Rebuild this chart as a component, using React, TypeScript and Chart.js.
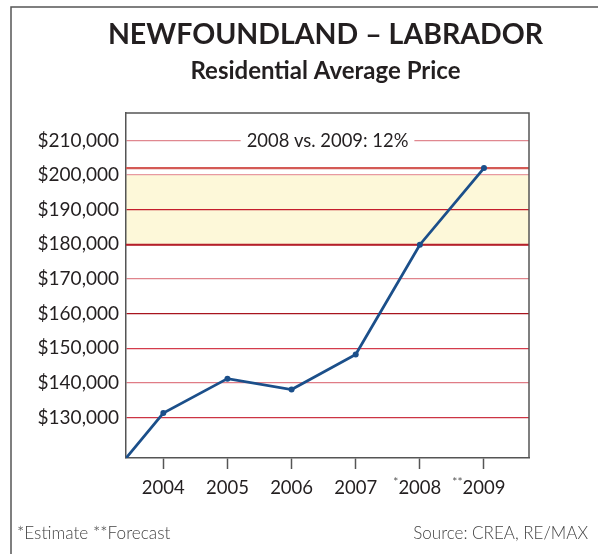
import React, { useEffect, useRef } from 'react';
import { Chart, registerables } from 'chart.js';

Chart.register(...registerables);

// ---- data ----
const years = [2003, 2004, 2005, 2006, 2007, 2008, 2009];
const prices = [109000, 131300, 141250, 138100, 148200, 179900, 202000];
const xTickYears = [2004, 2005, 2006, 2007, 2008, 2009];
const xTickLabels = ['2004', '2005', '2006', '2007', '*2008', '**2009'];
const yTickValues = [130000, 140000, 150000, 160000, 170000, 180000, 190000, 200000, 210000];
const bandRange = [180000, 200000];
const compareYears = [2008, 2009];
const titleText = 'NEWFOUNDLAND – LABRADOR';
const subtitleText = 'Residential Average Price';
const footnoteText = '*Estimate **Forecast';
const sourceText = 'Source: CREA, RE/MAX';

const FONT = 'Lato, "Open Sans", sans-serif';
const TEXT = '#231f20';
const LINE_BLUE = '#1b4f8a';

const gridColors: Record<number, string> = {
  130000: '#cc3444',
  140000: '#e07c86',
  150000: '#d43c4c',
  160000: '#a8141e',
  170000: '#e0848c',
  180000: '#b0101c',
  190000: '#c41e2c',
  200000: '#e89aa0',
  210000: '#e08890',
};

const decorPlugin = {
  id: 'decor',
  beforeDraw(chart: any) {
    const { ctx, chartArea } = chart;
    const y = chart.scales.y;
    const top = y.getPixelForValue(bandRange[1]);
    const bot = y.getPixelForValue(bandRange[0]);
    ctx.save();
    ctx.fillStyle = '#fdf8d9';
    ctx.fillRect(chartArea.left, top, chartArea.right - chartArea.left, bot - top);
    ctx.restore();
  },
  beforeDatasetsDraw(chart: any) {
    const { ctx, chartArea } = chart;
    const ys = chart.scales.y;
    ctx.save();
    const v1 = prices[years.indexOf(compareYears[0])];
    const v2 = prices[years.indexOf(compareYears[1])];
    const drawH = (v: number, color: string, w: number) => {
      const py = ys.getPixelForValue(v);
      ctx.beginPath();
      ctx.strokeStyle = color;
      ctx.lineWidth = w;
      ctx.moveTo(chartArea.left, py);
      ctx.lineTo(chartArea.right, py);
      ctx.stroke();
    };
    drawH(v1, '#b51f2a', 2);
    drawH(v2, '#d45a55', 2.2);

    const pct = Math.round((v2 / v1 - 1) * 100);
    const label = `${compareYears[0]} vs. ${compareYears[1]}: ${pct}%`;
    ctx.font = `18.4px ${FONT}`;
    const w = ctx.measureText(label).width;
    const cx = (chartArea.left + chartArea.right) / 2;
    const ay = ys.getPixelForValue(yTickValues[yTickValues.length - 1]);
    ctx.fillStyle = '#ffffff';
    ctx.fillRect(cx - w / 2 - 6, ay - 10, w + 12, 20);
    ctx.fillStyle = TEXT;
    ctx.textAlign = 'center';
    ctx.textBaseline = 'middle';
    ctx.fillText(label, cx, ay + 1);

    ctx.beginPath();
    ctx.strokeStyle = '#555';
    ctx.lineWidth = 1.5;
    ctx.moveTo(chartArea.left, chartArea.top);
    ctx.lineTo(chartArea.right, chartArea.top);
    ctx.lineTo(chartArea.right, chartArea.bottom);
    ctx.stroke();
    ctx.restore();
  },
  afterDraw(chart: any) {
    const { ctx, chartArea } = chart;
    ctx.save();
    ctx.beginPath();
    ctx.strokeStyle = '#555';
    ctx.lineWidth = 1.5;
    ctx.moveTo(11, 600);
    ctx.lineTo(11, 7);
    ctx.lineTo(620, 7);
    ctx.stroke();

    const cx = (chartArea.left + chartArea.right) / 2;
    ctx.fillStyle = TEXT;
    ctx.textAlign = 'center';
    ctx.textBaseline = 'alphabetic';
    ctx.font = `bold 28.5px ${FONT}`;
    ctx.fillText(titleText, cx - 2, 44);
    ctx.font = `bold 24px ${FONT}`;
    ctx.fillText(subtitleText, cx - 2, 79);

    const xs = chart.scales.x;
    xTickYears.forEach((yr, i) => {
      const m = xTickLabels[i].match(/^\*+/);
      if (!m) return;
      const digits = xTickLabels[i].replace(/\*/g, '');
      ctx.font = `18.5px ${FONT}`;
      const dw = ctx.measureText(digits).width;
      const px = xs.getPixelForValue(yr);
      ctx.font = `12px ${FONT}`;
      ctx.textAlign = 'right';
      ctx.fillStyle = '#555';
      ctx.fillText(m[0], px - dw / 2, 486);
    });

    ctx.font = `300 17.2px ${FONT}`;
    ctx.fillStyle = '#444';
    ctx.textAlign = 'left';
    ctx.fillText(footnoteText, 17, 539);
    ctx.textAlign = 'right';
    ctx.font = `300 17px ${FONT}`;
    ctx.fillText(sourceText, 588, 539);
    ctx.restore();
  },
};

export default function App() {
  const ref = useRef<HTMLCanvasElement | null>(null);
  useEffect(() => {
    if (!ref.current) return;
    const chart = new Chart(ref.current, {
      type: 'line',
      data: {
        datasets: [
          {
            data: years.map((yr, i) => ({ x: yr, y: prices[i] })),
            borderColor: LINE_BLUE,
            backgroundColor: LINE_BLUE,
            borderWidth: 2.8,
            pointRadius: (c: any) => (c.dataIndex === 0 ? 0 : 3),
            pointBackgroundColor: LINE_BLUE,
            pointBorderWidth: 0,
            tension: 0,
            clip: 0,
          } as any,
        ],
      },
      options: {
        animation: false,
        responsive: false,
        devicePixelRatio: 1,
        layout: { padding: { left: 0, top: 113, right: 69, bottom: 56 } },
        plugins: { legend: { display: false }, tooltip: { enabled: false }, title: { display: false } },
        scales: {
          x: {
            type: 'linear',
            min: 2003.418,
            max: 2009.702,
            afterBuildTicks: (s: any) => {
              s.ticks = xTickYears.map((v) => ({ value: v }));
            },
            afterFit: (s: any) => {
              s.height = 40;
            },
            grid: {
              drawOnChartArea: false,
              drawTicks: true,
              tickLength: 11,
              tickColor: '#555',
              tickWidth: 1.5,
            },
            border: { color: '#555', width: 1.5 },
            ticks: {
              autoSkip: false,
              maxRotation: 0,
              padding: 8,
              color: TEXT,
              font: { family: FONT, size: 18.5 },
              callback: (v: any) => String(v),
            },
          },
          y: {
            type: 'linear',
            min: 118350,
            max: 217900,
            afterBuildTicks: (s: any) => {
              s.ticks = yTickValues.map((v) => ({ value: v }));
            },
            afterFit: (s: any) => {
              s.width = 126;
            },
            grid: {
              drawTicks: false,
              lineWidth: 1.3,
              color: (c: any) => gridColors[c.tick?.value] || '#cc3444',
            },
            border: { color: '#555', width: 1.5 },
            ticks: {
              padding: 7,
              color: TEXT,
              font: { family: FONT, size: 19 },
              callback: (v: any) => '$' + Number(v).toLocaleString('en-US'),
            },
          },
        },
      },
      plugins: [decorPlugin],
    } as any);
    return () => chart.destroy();
  }, []);
  return (
    <div style={{ position: 'fixed', left: 0, top: 0, width: 598, height: 554, background: '#fff' }}>
      <canvas ref={ref} width={598} height={554} style={{ display: 'block', width: 598, height: 554 }} />
    </div>
  );
}
